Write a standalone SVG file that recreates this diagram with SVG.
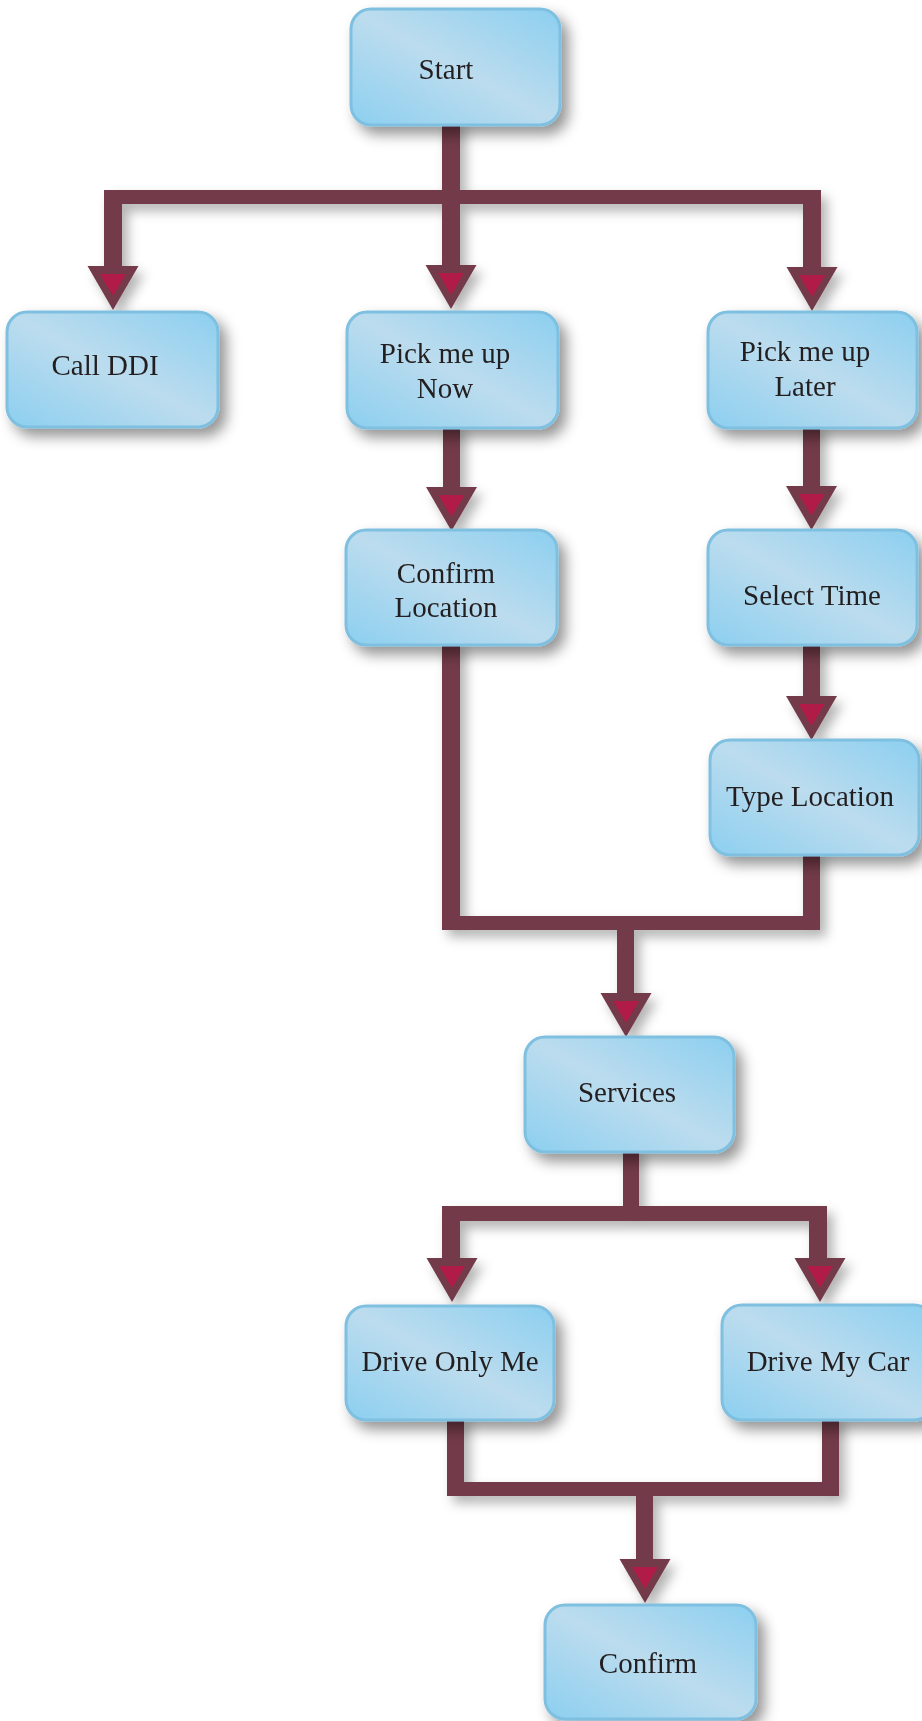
<svg xmlns="http://www.w3.org/2000/svg" width="922" height="1721" viewBox="0 0 922 1721">
<defs>
<linearGradient id="boxg" x1="1" y1="0" x2="0" y2="1">
<stop offset="0" stop-color="#8ccff0"/>
<stop offset="0.5" stop-color="#bcdcee"/>
<stop offset="1" stop-color="#8ccff0"/>
</linearGradient>
<filter id="sh" x="-20%" y="-20%" width="150%" height="160%">
<feDropShadow dx="7" dy="8" stdDeviation="7" flood-color="#000" flood-opacity="0.42"/>
</filter>
<filter id="csh" x="-30%" y="-30%" width="170%" height="170%">
<feDropShadow dx="6" dy="7" stdDeviation="6" flood-color="#000" flood-opacity="0.3"/>
</filter>
<g id="arrow">
<polygon points="-25.5,0 25.5,0 0,44" fill="#733a4a"/>
<polygon points="-13,8 13,8 0,30" fill="#b01c46"/>
</g>
</defs>
<style>
.box{fill:url(#boxg);stroke:#7fbfdf;stroke-width:3;filter:url(#sh)}
.lbl{font-family:"Liberation Serif","Times New Roman",serif;font-size:29px;fill:#231f20;text-anchor:middle}
.c{fill:#733a4a}
</style>
<rect width="922" height="1721" fill="#ffffff"/>
<g id="connectors" filter="url(#csh)">
<rect class="c" x="442" y="120" width="18" height="146"/>
<rect class="c" x="104" y="190" width="717" height="14"/>
<rect class="c" x="104" y="190" width="18" height="77"/>
<rect class="c" x="803" y="190" width="18" height="78"/>
<use href="#arrow" x="113" y="266"/>
<use href="#arrow" x="451" y="265"/>
<use href="#arrow" x="812" y="267"/>
<rect class="c" x="443" y="424" width="17" height="65"/>
<use href="#arrow" x="451.5" y="487"/>
<rect class="c" x="803" y="424" width="17" height="63"/>
<use href="#arrow" x="811.5" y="486"/>
<rect class="c" x="803" y="641" width="17" height="57"/>
<use href="#arrow" x="811.5" y="696"/>
<rect class="c" x="442" y="641" width="18" height="289"/>
<rect class="c" x="803" y="851" width="17" height="79"/>
<rect class="c" x="442" y="916" width="378" height="14"/>
<rect class="c" x="617" y="916" width="17" height="79"/>
<use href="#arrow" x="626" y="993"/>
<rect class="c" x="623" y="1148" width="16" height="62"/>
<rect class="c" x="442" y="1206" width="385" height="15"/>
<rect class="c" x="442" y="1206" width="18" height="53"/>
<rect class="c" x="809" y="1206" width="18" height="53"/>
<use href="#arrow" x="452" y="1258"/>
<use href="#arrow" x="820" y="1258"/>
<rect class="c" x="447" y="1416" width="17" height="80"/>
<rect class="c" x="822" y="1416" width="17" height="80"/>
<rect class="c" x="447" y="1482" width="392" height="14"/>
<rect class="c" x="636" y="1485" width="17" height="76"/>
<use href="#arrow" x="645" y="1559"/>
</g>
<g id="node-start">
<rect class="box" x="351" y="9" width="209" height="116" rx="20"/>
<text class="lbl" x="446" y="79">Start</text>
</g>
<g id="node-callddi">
<rect class="box" x="7" y="312" width="211" height="115" rx="20"/>
<text class="lbl" x="105" y="375">Call DDI</text>
</g>
<g id="node-pickupnow">
<rect class="box" x="347" y="312" width="211" height="116" rx="20"/>
<text class="lbl" x="445" y="363">Pick me up</text>
<text class="lbl" x="445" y="398">Now</text>
</g>
<g id="node-pickuplater">
<rect class="box" x="708" y="312" width="209" height="116" rx="20"/>
<text class="lbl" x="805" y="361">Pick me up</text>
<text class="lbl" x="805" y="396">Later</text>
</g>
<g id="node-confirmlocation">
<rect class="box" x="346" y="530" width="211" height="115" rx="20"/>
<text class="lbl" x="446" y="583">Confirm</text>
<text class="lbl" x="446" y="617">Location</text>
</g>
<g id="node-selecttime">
<rect class="box" x="708" y="530" width="209" height="115" rx="20"/>
<text class="lbl" x="812" y="605">Select Time</text>
</g>
<g id="node-typelocation">
<rect class="box" x="710" y="740" width="209" height="115" rx="20"/>
<text class="lbl" x="810" y="806">Type Location</text>
</g>
<g id="node-services">
<rect class="box" x="525" y="1037" width="209" height="115" rx="20"/>
<text class="lbl" x="627" y="1102">Services</text>
</g>
<g id="node-driveonlyme">
<rect class="box" x="346" y="1306" width="208" height="114" rx="20"/>
<text class="lbl" x="450" y="1371">Drive Only Me</text>
</g>
<g id="node-drivemycar">
<rect class="box" x="722" y="1305" width="212" height="115" rx="20"/>
<text class="lbl" x="828" y="1371">Drive My Car</text>
</g>
<g id="node-confirm">
<rect class="box" x="545" y="1605" width="211" height="114" rx="20"/>
<text class="lbl" x="648" y="1673">Confirm</text>
</g>
</svg>
